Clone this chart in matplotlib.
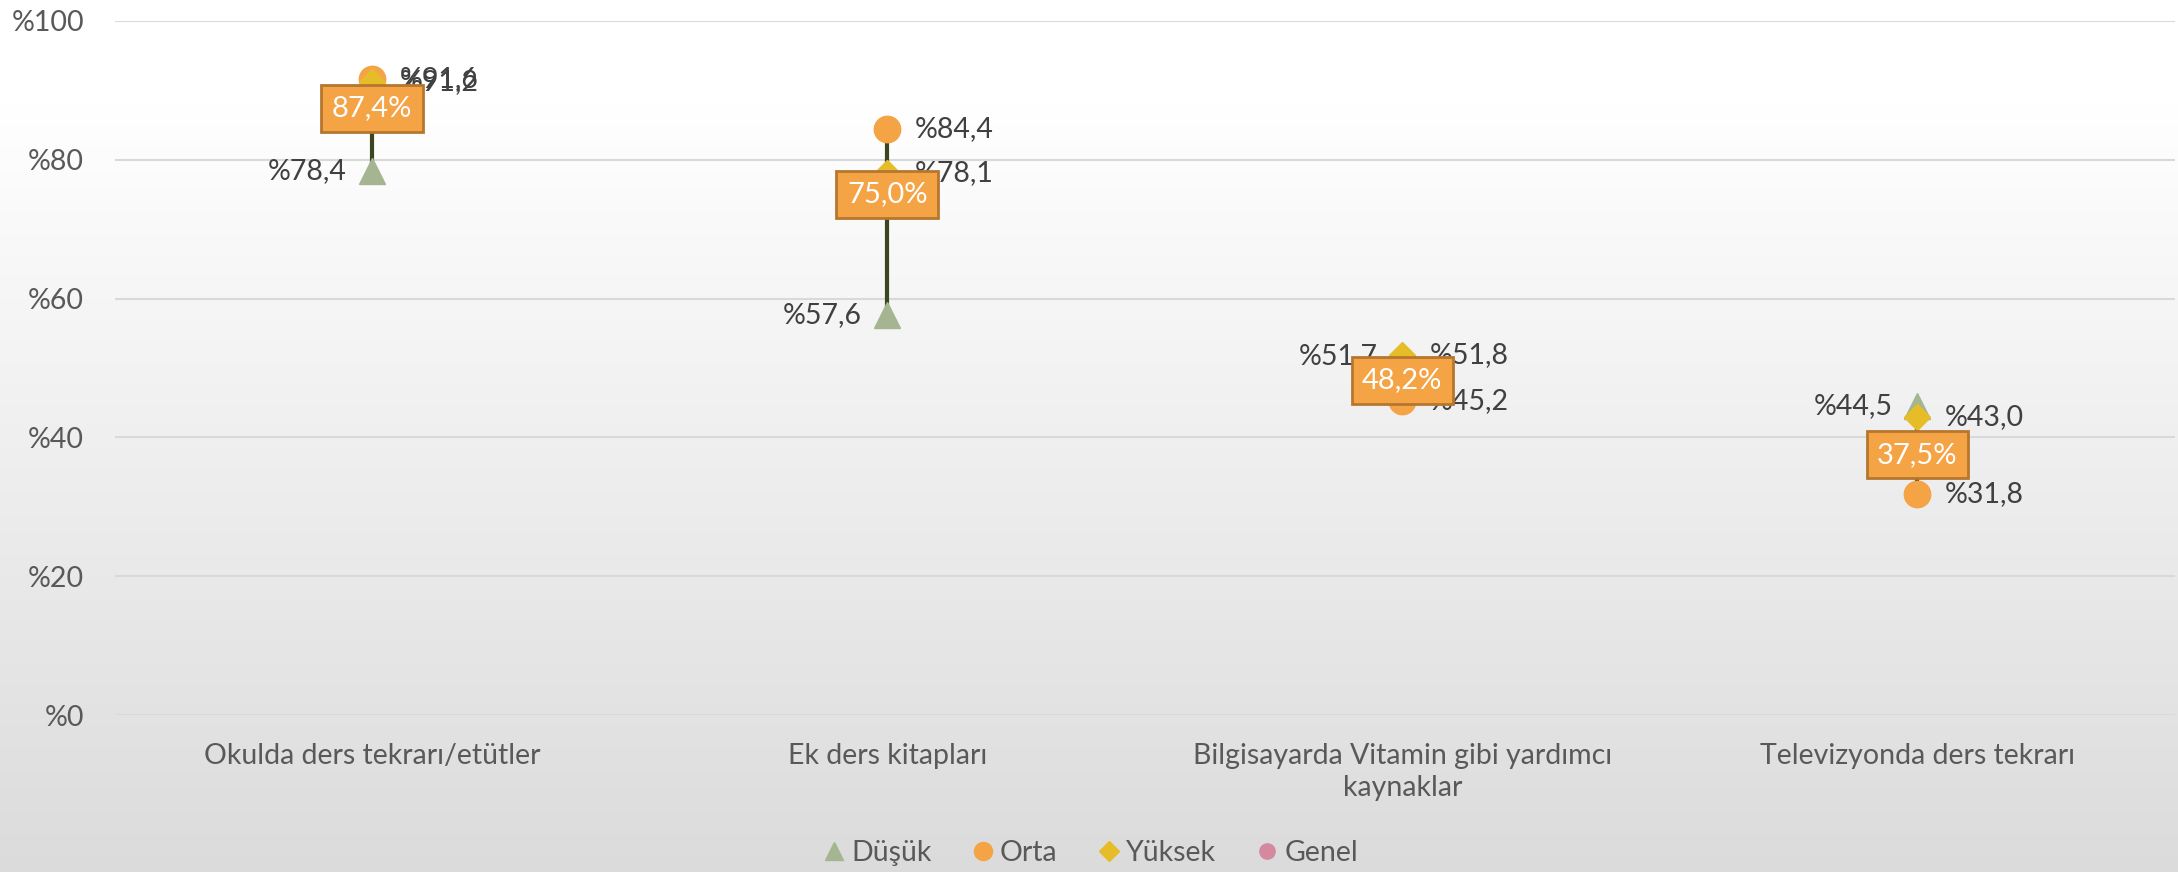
import numpy as np
import matplotlib
matplotlib.use("Agg")
import matplotlib.pyplot as plt
from matplotlib.lines import Line2D

plt.rcParams['font.family'] = ['Lato', 'DejaVu Sans']

categories = ["Okulda ders tekrarı/etütler", "Ek ders kitapları",
              "Bilgisayarda Vitamin gibi yardımcı\nkaynaklar", "Televizyonda ders tekrarı"]
dusuk = [78.4, 57.6, 51.7, 44.5]
orta = [91.6, 84.4, 45.2, 31.8]
yuksek = [91.2, 78.1, 51.8, 43.0]
genel = [87.4, 75.0, 48.2, 37.5]
yticks = [0, 20, 40, 60, 80, 100]

C_DUSUK = "#a5b592"
C_ORTA = "#f4a345"
C_YUKSEK = "#e6bc28"
C_GENEL = "#d4899f"
TXT = "#404040"
AX_TXT = "#595959"

fig = plt.figure(figsize=(21.78, 8.72), dpi=100)

# background gradient, white at the top to light grey at the bottom
bg = fig.add_axes([0, 0, 1, 1], zorder=-10)
t = np.linspace(0, 1, 256)
grad = np.where(t < 0.12, 1.0, 1.0 - (t - 0.12) / 0.88 * 0.14)
img = np.dstack([grad[:, None]] * 3).repeat(2, axis=1)
bg.imshow(img, aspect='auto', extent=[0, 1, 0, 1], origin='upper')
bg.set_xlim(0, 1)
bg.set_ylim(0, 1)
bg.axis('off')

ax = fig.add_axes([0.0526, 0.18, 0.946, 0.796])
ax.patch.set_alpha(0)
x = np.arange(len(categories))

for i in x:
    lo = min(dusuk[i], orta[i], yuksek[i], genel[i])
    hi = max(dusuk[i], orta[i], yuksek[i], genel[i])
    ax.plot([i, i], [lo, hi], color="#3b4620", lw=3, zorder=2)

ax.plot(x, dusuk, ls='none', marker='^', ms=19, color=C_DUSUK, zorder=3)
ax.plot(x, orta, ls='none', marker='o', ms=19, color=C_ORTA, zorder=3)
ax.plot(x, yuksek, ls='none', marker='D', ms=13, color=C_YUKSEK, zorder=4)
ax.plot(x, genel, ls='none', marker='o', ms=14, color=C_GENEL, zorder=3)

def fmt(v):
    return "%" + f"{v:.1f}".replace(".", ",")

for i in x:
    ax.annotate(fmt(dusuk[i]), (i, dusuk[i]), xytext=(-18, 0), textcoords='offset points',
                ha='right', va='center', fontsize=20.5, color=TXT, zorder=5)
    ax.annotate(fmt(orta[i]), (i, orta[i]), xytext=(20, 0), textcoords='offset points',
                ha='left', va='center', fontsize=20.5, color=TXT, zorder=5)
    ax.annotate(fmt(yuksek[i]), (i, yuksek[i]), xytext=(20, 0), textcoords='offset points',
                ha='left', va='center', fontsize=20.5, color=TXT, zorder=5)
    ax.annotate(f"{genel[i]:.1f}%".replace(".", ","), (i, genel[i]), ha='center', va='center',
                fontsize=21, color='white', zorder=6,
                bbox=dict(boxstyle='square,pad=0.36', fc=C_ORTA, ec="#b5772f", lw=2))

ax.set_xlim(-0.5, len(categories) - 0.5)
ax.set_ylim(0, 100)
ax.set_yticks(yticks)
ax.set_yticklabels(["%" + str(v) for v in yticks])
ax.set_xticks(x)
ax.set_xticklabels(categories, linespacing=1.3)
ax.tick_params(axis='both', length=0, labelsize=20.5, colors=AX_TXT)
ax.tick_params(axis='y', pad=22)
ax.tick_params(axis='x', pad=20)
ax.grid(axis='y', color="#d9d9d9", lw=1.5)
ax.set_axisbelow(True)
for s in ax.spines.values():
    s.set_visible(False)

handles = [
    Line2D([], [], ls='none', marker='^', ms=13, color=C_DUSUK, label="Düşük"),
    Line2D([], [], ls='none', marker='o', ms=13, color=C_ORTA, label="Orta"),
    Line2D([], [], ls='none', marker='D', ms=10, color=C_YUKSEK, label="Yüksek"),
    Line2D([], [], ls='none', marker='o', ms=11, color=C_GENEL, label="Genel"),
]
leg = fig.legend(handles=handles, loc='lower center', bbox_to_anchor=(0.5, -0.022), ncol=4,
                 frameon=False, fontsize=20.5, handletextpad=0.1, columnspacing=1.3,
                 handlelength=1.0)
for txt in leg.get_texts():
    txt.set_color(AX_TXT)

fig.savefig("out.png", dpi=100)
